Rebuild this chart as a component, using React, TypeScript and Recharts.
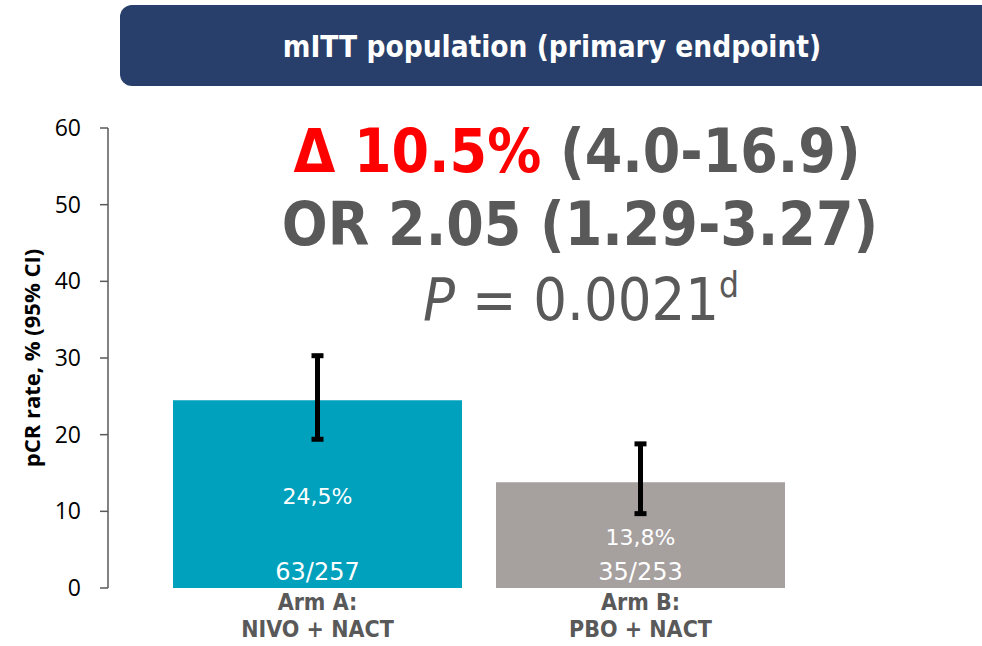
import React from "react";
import {
  ComposedChart,
  Bar,
  XAxis,
  YAxis,
  Cell,
  ErrorBar,
  LabelList,
  Customized,
} from "recharts";

// values
const arms = ["Arm A:|NIVO + NACT", "Arm B:|PBO + NACT"];
const pcrRate = [24.5, 13.8];
const ciLow = [19.4, 9.7];
const ciHigh = [30.3, 18.8];
const pctLabels = ["24,5%", "13,8%"];
const countLabels = ["63/257", "35/253"];
const barColors = ["#00a1bd", "#a6a09f"];
const yTicks = [0, 10, 20, 30, 40, 50, 60];

const data = arms.map((arm, i) => ({
  arm,
  rate: pcrRate[i],
  err: [pcrRate[i] - ciLow[i], ciHigh[i] - pcrRate[i]],
  pct: pctLabels[i],
  count: countLabels[i],
}));

const GREY = "#595959";
const COND = "'DejaVu Sans Condensed', 'DejaVu Sans', sans-serif";

const ArmTick = (props: any) => {
  const { x, y, payload } = props;
  const [l1, l2] = String(payload.value).split("|");
  return (
    <g>
      <text x={x} y={y + 14} textAnchor="middle" fill={GREY} fontFamily={COND} fontWeight="bold" fontSize={23}>
        {l1}
      </text>
      <text x={x} y={y + 41} textAnchor="middle" fill={GREY} fontFamily={COND} fontWeight="bold" fontSize={23}>
        {l2}
      </text>
    </g>
  );
};

const CountLabel = (props: any) => {
  const { x, width, y, height, value } = props;
  return (
    <text x={x + width / 2} y={y + height - 8} textAnchor="middle" fill="#fff" fontFamily="'DejaVu Sans', sans-serif" fontSize={24}>
      {value}
    </text>
  );
};

const PctLabel = (props: any) => {
  const { x, width, y, height, value } = props;
  return (
    <text x={x + width / 2} y={y + height / 2 + 10} textAnchor="middle" fill="#fff" fontFamily="'DejaVu Sans', sans-serif" fontSize={22}>
      {value}
    </text>
  );
};

// stats block in the upper right of the plot
const Stats = () => (
  <g fontFamily={COND}>
    <text x={577} y={172} textAnchor="middle" fontSize={60} fontWeight="bold" fill={GREY}>
      <tspan fill="#ff0000">Δ 10.5%</tspan>
      <tspan> (4.0-16.9)</tspan>
    </text>
    <text x={580} y={245} textAnchor="middle" fontSize={60} fontWeight="bold" fill={GREY}>
      OR 2.05 (1.29-3.27)
    </text>
    <text x={581} y={320} textAnchor="middle" fontSize={59} fill={GREY}>
      <tspan fontStyle="italic">P</tspan>
      <tspan> = 0.0021</tspan>
      <tspan fontSize={35} dy={-23}>d</tspan>
    </text>
  </g>
);

export default function App() {
  return (
    <div style={{ position: "absolute", left: 0, top: 0, width: 982, height: 646, background: "#fff" }}>
      <div
        style={{
          position: "absolute",
          left: 120,
          top: 5,
          width: 880,
          height: 81,
          borderRadius: 12,
          background: "#273f6a",
          color: "#fff",
          display: "flex",
          alignItems: "center",
          justifyContent: "center",
          fontFamily: COND,
          fontWeight: "bold",
          fontSize: 29.5,
          boxSizing: "border-box",
          paddingRight: 16,
          paddingTop: 2,
        }}
      >
        mITT population (primary endpoint)
      </div>
      <ComposedChart
        width={982}
        height={646}
        data={data}
        margin={{ top: 128, right: 180, bottom: 28, left: 0 }}
        style={{ position: "absolute", left: 0, top: 0 }}
      >
        <XAxis
          dataKey="arm"
          axisLine={false}
          tickLine={false}
          height={30}
          padding={{ left: 48, right: 0 }}
          tick={<ArmTick />}
          interval={0}
        />
        <YAxis
          domain={[0, 60]}
          ticks={yTicks}
          width={108}
          tickSize={8}
          tickMargin={19}
          axisLine={{ stroke: "#595959", strokeWidth: 1.5 }}
          tickLine={{ stroke: "#595959", strokeWidth: 1.5 }}
          tick={{ fill: "#000", fontSize: 23, fontFamily: "'Open Sans', sans-serif" }}
          label={{
            value: "pCR rate, % (95% CI)",
            angle: -90,
            position: "insideLeft",
            offset: 32,
            style: { textAnchor: "middle", fontWeight: "bold", fontSize: 22, fill: "#000", fontFamily: "'Open Sans', sans-serif" },
          }}
        />
        <Bar dataKey="rate" barSize={289} isAnimationActive={false}>
          {data.map((d, i) => (
            <Cell key={`cell-${i}`} fill={barColors[i]} />
          ))}
          <LabelList dataKey="pct" content={<PctLabel />} />
          <LabelList dataKey="count" content={<CountLabel />} />
          <ErrorBar dataKey="err" width={6} strokeWidth={5} stroke="#000" direction="y" />
        </Bar>
        <Customized component={Stats} />
      </ComposedChart>
    </div>
  );
}
